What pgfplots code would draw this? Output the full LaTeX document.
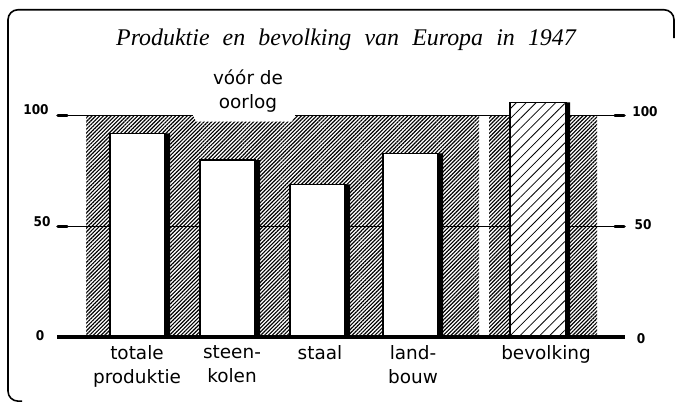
\documentclass[border=0pt]{standalone}
\usepackage{fontspec}
\setmainfont{DejaVu Sans}
\newfontfamily\titlefont{Liberation Serif}
\newfontfamily\tickfont{DejaVu Sans Condensed}
\usepackage{pgfplots}
\pgfplotsset{compat=1.18}
\usetikzlibrary{patterns.meta}
\begin{document}
\begin{tikzpicture}
\begin{axis}[
  scale only axis, width=677bp, height=402bp,
  xmin=0, xmax=677, ymin=-29.2, ymax=152.2,
  hide axis, clip=false,
]
% bounding box
\path (axis cs:0,-29.2) rectangle (axis cs:677,152.2);
% frame
\draw[line width=1.6pt, rounded corners=10pt] (axis cs:22,-28.8) -- (axis cs:8,-28.8) -- (axis cs:8,147.8) -- (axis cs:674,147.8) -- (axis cs:674,135);
% hatched pre-war background
\addplot[draw=none, pattern={Lines[angle=45,distance=2.7pt,line width=1.15pt]}] coordinates {(86,0) (86,100) (193,100) (196,97.3) (292,97.3) (295,100) (479,100) (479,0)} -- cycle;
\addplot[draw=none, pattern={Lines[angle=45,distance=2.7pt,line width=1.15pt]}] coordinates {(489,0) (489,100) (597,100) (597,0)} -- cycle;
% reference lines
\addplot[black, line width=0.8pt] coordinates {(57,50) (625,50)};
\addplot[black, line width=0.8pt] coordinates {(57,100) (193,100)};
\addplot[black, line width=0.8pt] coordinates {(295,100) (625,100)};
% bar shadows
\addplot[ybar, bar width=60, bar shift=0pt, fill=black, draw=none] coordinates {(140,92) (230,80) (320,69) (413,83) (540,106)};
% white bars
\addplot[ybar, bar width=55, bar shift=0pt, fill=white, draw=black, line width=1.3pt] coordinates {(137.5,92) (227.5,80) (317.5,69) (410.5,83)};
% population bar
\addplot[ybar, bar width=56, bar shift=0pt, fill=white, draw=black, line width=1.3pt, postaction={pattern={Lines[angle=45,distance=7pt,line width=0.8pt]}}] coordinates {(538,106)};
% baseline and tick blobs
\addplot[black, line width=3.6pt] coordinates {(57,0) (625,0)};
\addplot[black, line width=3.6pt, line cap=round] coordinates {(58,100) (67,100)};
\addplot[black, line width=3.6pt, line cap=round] coordinates {(58,50) (67,50)};
\addplot[black, line width=3.6pt, line cap=round] coordinates {(615,100) (624,100)};
\addplot[black, line width=3.6pt, line cap=round] coordinates {(615,50) (624,50)};
% tick labels
\node[font=\tickfont\bfseries\fontsize{13.5}{15}\selectfont] at (axis cs:36,102.6) {100};
\node[font=\tickfont\bfseries\fontsize{13.5}{15}\selectfont] at (axis cs:42,52) {50};
\node[font=\tickfont\bfseries\fontsize{13.5}{15}\selectfont] at (axis cs:40,0.6) {0};
\node[font=\tickfont\bfseries\fontsize{13.5}{15}\selectfont] at (axis cs:645,101.7) {100};
\node[font=\tickfont\bfseries\fontsize{13.5}{15}\selectfont] at (axis cs:643,50.7) {50};
\node[font=\tickfont\bfseries\fontsize{13.5}{15}\selectfont] at (axis cs:641,-0.8) {0};
% title
\node[font=\titlefont\itshape\fontsize{24}{27}\selectfont] at (axis cs:346,134.2) {Produktie\hspace{0.55em}en\hspace{0.55em}bevolking\hspace{0.55em}van\hspace{0.55em}Europa\hspace{0.55em}in\hspace{0.55em}1947};
% labels
\node[font=\fontsize{18.5}{24}\selectfont, align=center] at (axis cs:248,111) {vóór de\\oorlog};
\node[font=\fontsize{18.5}{24}\selectfont, align=center, anchor=north] at (axis cs:137,-2.2) {totale\\produktie};
\node[font=\fontsize{18.5}{24}\selectfont, align=center, anchor=north] at (axis cs:232,-2.2) {steen-\\kolen};
\node[font=\fontsize{18.5}{24}\selectfont, align=center, anchor=north] at (axis cs:320,-2.2) {staal};
\node[font=\fontsize{18.5}{24}\selectfont, align=center, anchor=north] at (axis cs:413,-2.2) {land-\\bouw};
\node[font=\fontsize{18.5}{24}\selectfont, align=center, anchor=north] at (axis cs:546,-2.2) {bevolking};
\end{axis}
\end{tikzpicture}
\end{document}
